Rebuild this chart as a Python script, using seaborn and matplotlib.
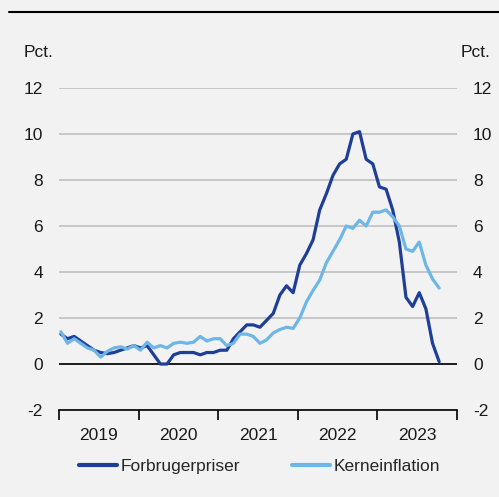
import numpy as np
import pandas as pd
import matplotlib
matplotlib.use('Agg')
import matplotlib.pyplot as plt
import seaborn as sns
from matplotlib.lines import Line2D

# ── DATA ────────────────────────────────────────────────────────
years = ['2019', '2020', '2021', '2022', '2023']

# monthly annual rate, Jan 2019 - Oct 2023
forbrugerpriser = [
    1.3, 1.1, 1.2, 1.0, 0.8, 0.6, 0.5, 0.45, 0.5, 0.6, 0.7, 0.8,
    0.7, 0.8, 0.4, 0.0, 0.0, 0.4, 0.5, 0.5, 0.5, 0.4, 0.5, 0.5,
    0.6, 0.6, 1.1, 1.4, 1.7, 1.7, 1.6, 1.9, 2.2, 3.0, 3.4, 3.1,
    4.3, 4.8, 5.4, 6.7, 7.4, 8.2, 8.7, 8.9, 10.0, 10.1, 8.9, 8.7,
    7.7, 7.6, 6.7, 5.3, 2.9, 2.5, 3.1, 2.4, 0.9, 0.1,
]
kerneinflation = [
    1.4, 0.9, 1.1, 0.9, 0.7, 0.6, 0.3, 0.55, 0.7, 0.75, 0.65, 0.8,
    0.6, 0.95, 0.7, 0.8, 0.7, 0.9, 0.95, 0.9, 0.95, 1.2, 1.0, 1.1,
    1.1, 0.8, 0.9, 1.3, 1.3, 1.2, 0.9, 1.05, 1.35, 1.5, 1.6, 1.55,
    2.0, 2.7, 3.2, 3.65, 4.4, 4.9, 5.4, 6.0, 5.9, 6.25, 6.0, 6.6,
    6.6, 6.7, 6.4, 6.0, 5.0, 4.9, 5.3, 4.3, 3.7, 3.3,
]
series_names = ['Forbrugerpriser', 'Kerneinflation']
colors = ['#1f3e97', '#6db6e6']

n = len(forbrugerpriser)
months = np.arange(n) + 0.3
df = pd.DataFrame({
    'maaned': np.concatenate([months, months]),
    'pct': forbrugerpriser + kerneinflation,
    'serie': [series_names[0]] * n + [series_names[1]] * n,
})

# ── STYLE ───────────────────────────────────────────────────────
sns.set_style('white')
bg = '#f2f2f2'
plt.rcParams['font.family'] = ['Liberation Sans', 'DejaVu Sans']
plt.rcParams['font.size'] = 12.5
plt.rcParams['axes.unicode_minus'] = False

fig = plt.figure(figsize=(4.99, 4.97), dpi=100, facecolor=bg)
ax = fig.add_axes([0.118, 0.175, 0.798, 0.648], facecolor=bg)

sns.lineplot(data=df, x='maaned', y='pct', hue='serie', hue_order=series_names,
             palette=colors, linewidth=2.3, ax=ax, zorder=3)

# ── AXES ────────────────────────────────────────────────────────
ax.set_ylim(-2, 12)
ax.set_yticks(range(-2, 13, 2))
ax.set_xlim(0, 12 * len(years))
ax.set_xticks(range(0, 12 * len(years) + 1, 12))
ax.set_xticklabels([])
ax.set_xticks([12 * i + 6 for i in range(len(years))], minor=True)
ax.set_xticklabels(years, minor=True)
ax.tick_params(axis='x', which='major', direction='out', length=7, width=1.2,
               color='black', bottom=True)
ax.tick_params(axis='x', which='minor', length=0, pad=13, labelsize=12.5,
               labelcolor='#1a1a1a')
ax.tick_params(axis='y', length=0, pad=11.5, labelleft=True, labelright=True,
               labelsize=12.5, labelcolor='#1a1a1a')
ax.set_xlabel('')
ax.set_ylabel('')

ax.grid(axis='y', color='#bfbfbf', linewidth=1.2)
ax.grid(axis='x', visible=False)
ax.set_axisbelow(True)
ax.axhline(0, color='black', linewidth=1.2, zorder=2)

for side in ['top', 'left', 'right']:
    ax.spines[side].set_visible(False)
ax.spines['bottom'].set_color('black')
ax.spines['bottom'].set_linewidth(1.2)

# ── TEXT / LEGEND ───────────────────────────────────────────────
fig.text(0.048, 0.895, 'Pct.', ha='left', va='center', fontsize=12.5,
         color='#1a1a1a')
fig.text(0.982, 0.895, 'Pct.', ha='right', va='center', fontsize=12.5,
         color='#1a1a1a')
fig.add_artist(Line2D([9 / 499, 1], [1 - 12 / 497] * 2, color='black',
                      linewidth=1.5, transform=fig.transFigure))

handles, labels = ax.get_legend_handles_labels()
for h in handles:
    h.set_linewidth(3)
ax.legend(handles, labels, loc='center', bbox_to_anchor=(0.52, 0.062),
          bbox_transform=fig.transFigure, ncol=2, frameon=False,
          handlelength=2.2, handletextpad=0.2, columnspacing=3.0,
          fontsize=12.5)

fig.savefig('out.png', dpi=100, facecolor=bg)
